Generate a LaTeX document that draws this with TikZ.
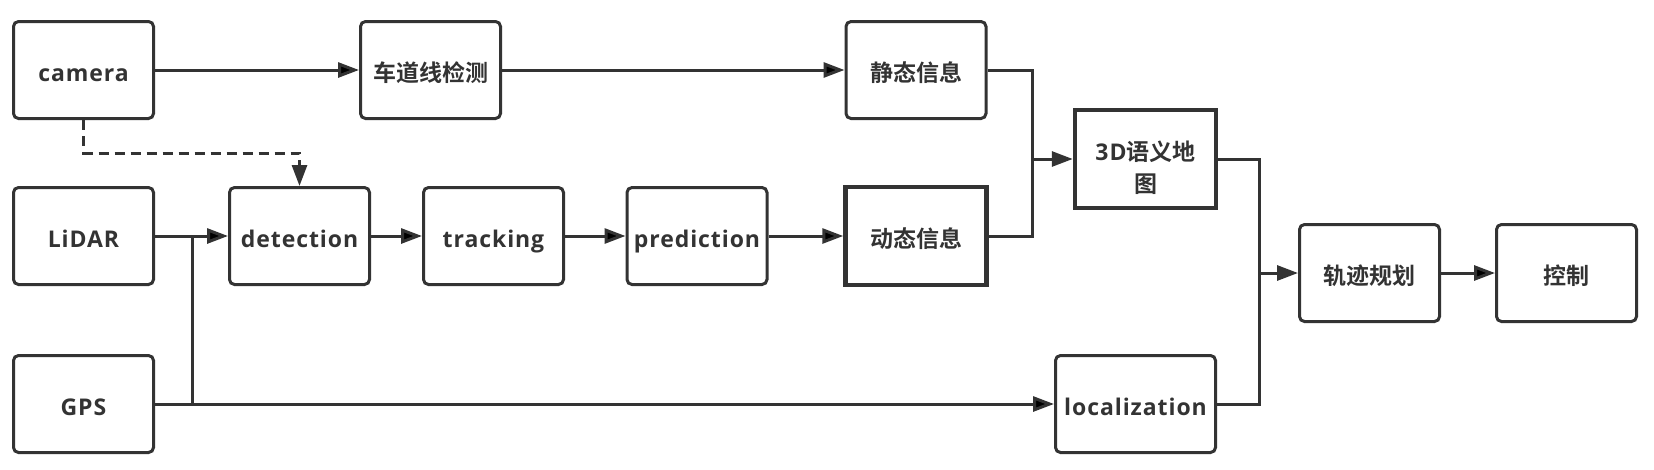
\documentclass[tikz,border=0pt]{standalone}
\usepackage{fontspec}
\setmainfont{Open Sans}[BoldFeatures={LetterSpace=4}]
\newfontfamily\zh{Noto Sans CJK SC}[BoldFont={Noto Sans CJK SC Bold}]
\usepackage{xcolor}
\usetikzlibrary{arrows.meta}
\definecolor{ink}{HTML}{333333}

\begin{document}
\begin{tikzpicture}[x=1pt,y=-1pt,
    >={Triangle[length=21pt,width=15pt]},
    base/.style={draw=ink,line width=3pt,minimum width=140pt,minimum height=97pt,inner sep=0pt,
      text=ink,align=center,font=\fontsize{23}{32}\selectfont\bfseries},
    box/.style={base,rounded corners=5pt,text height=27pt,text depth=5pt},
    sharpbox/.style={base,line width=4.5pt,minimum width=141pt,minimum height=98pt},
    link/.style={draw=ink,line width=3pt},
    dashline/.style={link,dash pattern=on 10pt off 6pt}]
    \useasboundingbox (0,0) rectangle (1654,469);
    \node[box] (S1) at (83.5,70) {camera};
    \node[box] (S2) at (83.5,236) {LiDAR};
    \node[box] (S3) at (83.5,404) {GPS};
    \node[box] (L1) at (430.5,70) {\zh 车道线检测};
    \node[box] (L2) at (916,70) {\zh 静态信息};
    \node[box] (P1) at (299.5,236) {detection};
    \node[box] (P2) at (493.5,236) {tracking};
    \node[box] (P3) at (697,236) {prediction};
    \node[sharpbox,text height=27pt,text depth=5pt] (P4) at (916,236) {\zh 动态信息};
    \node[sharpbox] (M) at (1145.5,159) {\rule{0pt}{37pt}3D{\zh 语义地}\\{\zh 图}};
    \node[box,minimum width=160pt] (Loc) at (1135.5,404) {localization};
    \node[box] (T) at (1369.5,273) {\zh 轨迹规划};
    \node[box] (C) at (1566.5,273) {\zh 控制};
    \coordinate (K) at (83.5,153);
    \coordinate (J1) at (192,236);
    \coordinate (J1b) at (192,404);
    \coordinate (J2) at (1032,159);
    \coordinate (J3) at (1259,273);
    \path [link,->] (S1) edge (L1);
    \path [link,->] (L1) edge (L2);
    \path [link,->] (S2) edge (P1);
    \path [link,->] (P1) edge (P2);
    \path [link,->] (P2) edge (P3);
    \path [link,->] (P3) edge (P4);
    \path [link,->] (S3) edge (Loc);
    \draw [link] (J1) -- (J1b);
    \draw [dashline,->] (S1) -- (K) -| (P1);
    \draw [link] (L2) -| (J2);
    \draw [link] (P4) -| (J2);
    \draw [link,->] (J2) -- (M);
    \draw [link] (M) -| (J3);
    \draw [link] (Loc) -| (J3);
    \draw [link,->] (J3) -- (T);
    \path [link,->] (T) edge (C);
  \end{tikzpicture}
\end{document}
